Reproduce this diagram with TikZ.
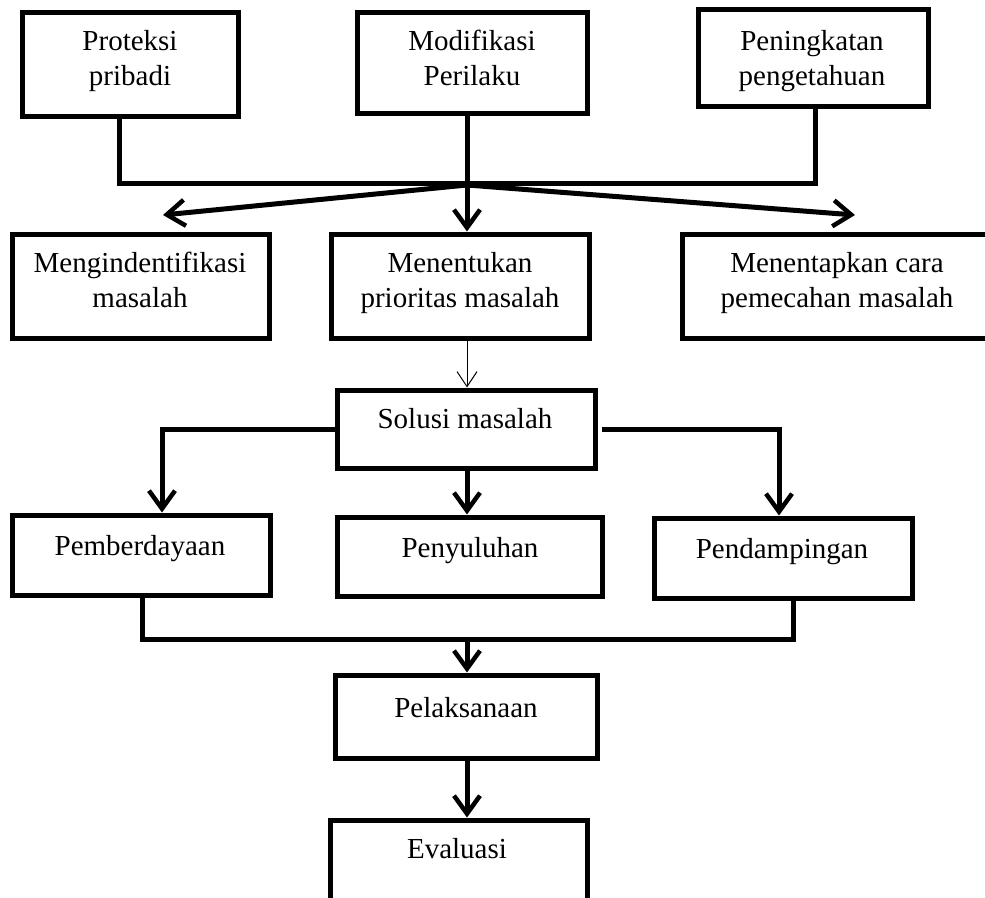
\documentclass[tikz,border=0pt]{standalone}
\usepackage{fontspec}
\setmainfont{Liberation Serif}
\usetikzlibrary{arrows.meta}
\begin{document}
\begin{tikzpicture}[x=1pt,y=-1pt,
  box/.style={draw=black, line width=5pt, rectangle, inner sep=0pt, fill=none},
  txt/.style={anchor=base, inner sep=0pt, font=\fontsize{29}{35}\selectfont},
  conn/.style={line width=5pt, line join=miter},
  arr/.style={conn, -{Straight Barb[length=18pt,width=26pt,line width=4.5pt]}},
  thinarr/.style={line width=1pt, -{Straight Barb[length=15pt,width=20pt,line width=1pt]}}
]
\useasboundingbox (0,0) rectangle (985,897);
\clip (0,0) rectangle (985,897);
\fill[white] (0,0) rectangle (985,897);

% row 1
\node[box, minimum width=216pt, minimum height=104pt] (prot) at (130,64) {};
\node[box, minimum width=230pt, minimum height=101pt] (modi) at (472,62.5) {};
\node[box, minimum width=230pt, minimum height=97pt] (peni) at (813,58) {};
\node[txt] at (130,50) {Proteksi};
\node[txt] at (130,85) {pribadi};
\node[txt] at (472,50) {Modifikasi};
\node[txt] at (472,85) {Perilaku};
\node[txt] at (812,50) {Peningkatan};
\node[txt] at (812,85) {pengetahuan};

% row 2
\node[box, minimum width=257pt, minimum height=104pt] (meng) at (140.5,286) {};
\node[box, minimum width=258pt, minimum height=104pt] (ment) at (460,286) {};
\node[box, minimum width=313pt, minimum height=104pt] (menet) at (838.5,286) {};
\node[txt] at (140,272) {Mengindentifikasi};
\node[txt] at (140,307) {masalah};
\node[txt] at (460,272) {Menentukan};
\node[txt] at (460,307) {prioritas masalah};
\node[txt] at (837,272) {Menentapkan cara};
\node[txt] at (837,307) {pemecahan masalah};

% row 3
\node[box, minimum width=258pt, minimum height=78pt] (sol) at (466,429) {};
\node[txt] at (465,428) {Solusi masalah};

% row 4
\node[box, minimum width=258pt, minimum height=80pt] (pem) at (141,555) {};
\node[box, minimum width=265pt, minimum height=79pt] (pen) at (469.5,556.5) {};
\node[box, minimum width=258pt, minimum height=80pt] (pend) at (783,558) {};
\node[txt] at (140,555) {Pemberdayaan};
\node[txt] at (470,557) {Penyuluhan};
\node[txt] at (782,558) {Pendampingan};

% row 5, 6
\node[box, minimum width=262pt, minimum height=83pt] (pel) at (466,716.5) {};
\node[box, minimum width=257pt, minimum height=140pt] (eva) at (458.5,890) {};
\node[txt] at (466,717) {Pelaksanaan};
\node[txt] at (457,858) {Evaluasi};

% junction coordinates
\coordinate (J) at (467,185);
\coordinate (busL) at (119,183);
\coordinate (busR) at (815,183);
\coordinate (solL) at (162,429);
\coordinate (solR) at (779,429);
\coordinate (solRs) at (602,429);
\coordinate (B) at (467,639);
\coordinate (bL) at (142,639);
\coordinate (bR) at (793,639);

% top bus
\draw[conn] (busL |- prot.south) -- (busL) -- (busR) -- (busR |- peni.south);
\draw[arr] (J |- modi.south) -- (J |- ment.north);
\draw[arr] (J) -- (163,215);
\draw[arr] (J) -- (855,215);

% to Solusi
\draw[thinarr] (J |- ment.south) -- (J |- sol.north);

% from Solusi
\draw[arr] (sol.west |- solL) -- (solL) -- (solL |- pem.north);
\draw[arr] (solRs) -- (solR) -- (solR |- pend.north);
\draw[arr] (J |- sol.south) -- (J |- pen.north);

% bottom bus
\draw[conn] (bL |- pem.south) -- (bL) -- (bR) -- (bR |- pend.south);
\draw[arr] (B) -- (B |- pel.north);
\draw[arr] (B |- pel.south) -- (B |- eva.north);
\end{tikzpicture}
\end{document}
